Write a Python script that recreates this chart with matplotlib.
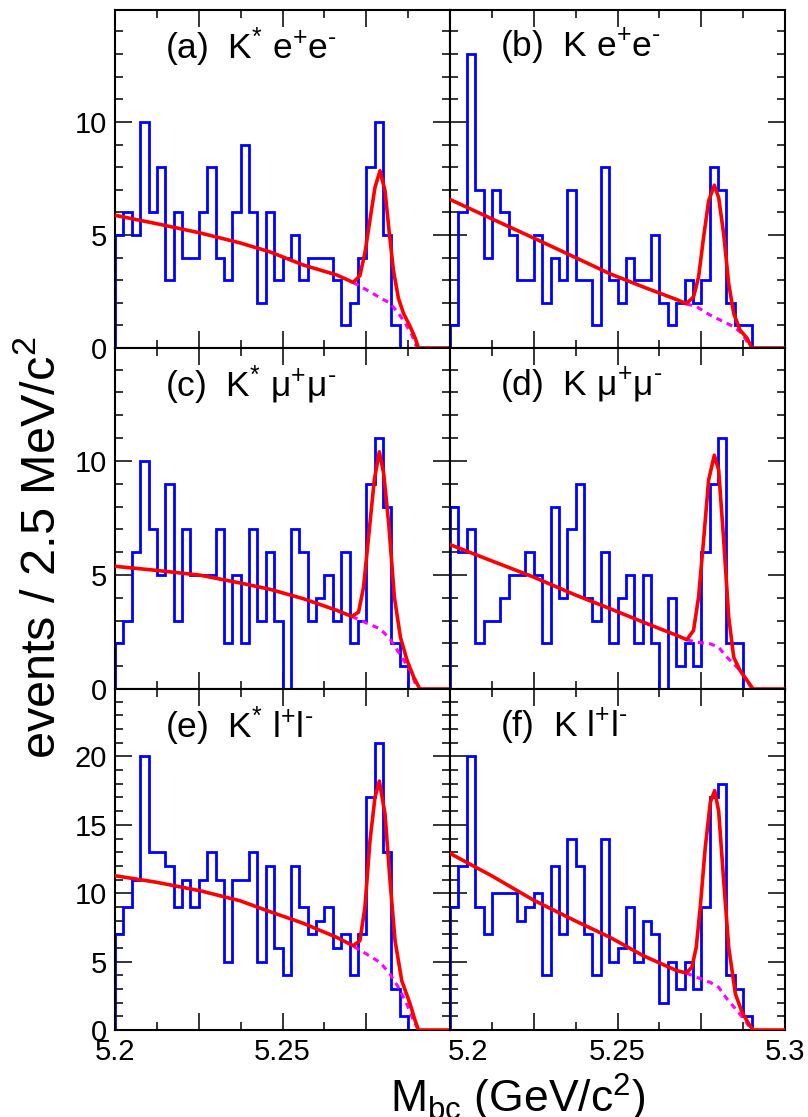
import numpy as np
import matplotlib
matplotlib.use("Agg")
import matplotlib.pyplot as plt
import matplotlib.transforms as mtransforms
from matplotlib.ticker import MultipleLocator, FixedLocator

plt.rcParams['font.family'] = ['Liberation Sans', 'DejaVu Sans']
plt.rcParams['mathtext.fontset'] = 'custom'
plt.rcParams['mathtext.rm'] = 'Liberation Sans'
plt.rcParams['mathtext.it'] = 'Liberation Sans'

# binning: 40 bins of 2.5 MeV from 5.20 to 5.30 GeV
mbc_lo = 5.2
bin_w = 0.0025
n_bins = 40

# event counts per bin
cnt_a = [5, 6, 5, 10, 6, 8, 3, 6, 4, 4, 6, 8, 4, 3, 6, 9, 6, 2, 6, 3,
         4, 5, 3, 4, 4, 4, 3, 1, 2, 4, 8, 10, 5, 1, 0, 0, 0, 0, 0, 0]
cnt_b = [1, 6, 13, 7, 4, 7, 6, 5, 3, 3, 5, 2, 4, 3, 7, 3, 3, 1, 8, 3,
         2, 4, 3, 3, 5, 2, 1, 2, 3, 2, 3, 8, 7, 2, 1, 1, 0, 0, 0, 0]
cnt_c = [2, 3, 6, 10, 7, 5, 9, 3, 7, 5, 5, 5, 7, 2, 5, 2, 7, 3, 6, 3,
         0, 7, 6, 3, 4, 5, 3, 6, 2, 3, 9, 11, 8, 2, 1, 0, 0, 0, 0, 0]
cnt_d = [8, 6, 7, 2, 3, 3, 4, 5, 5, 6, 5, 2, 8, 4, 7, 9, 4, 3, 6, 2,
         4, 5, 2, 5, 2, 0, 4, 1, 2, 1, 6, 9, 11, 2, 2, 0, 0, 0, 0, 0]
cnt_e = [7, 9, 11, 20, 13, 13, 12, 9, 11, 9, 11, 13, 11, 5, 11, 11, 13, 5, 12, 6,
         4, 12, 9, 7, 8, 9, 6, 7, 4, 7, 17, 21, 13, 3, 1, 0, 0, 0, 0, 0]
cnt_f = [9, 12, 20, 9, 7, 10, 10, 10, 8, 9, 10, 4, 12, 7, 14, 12, 7, 4, 14, 5,
         6, 9, 5, 8, 7, 2, 5, 3, 5, 3, 9, 17, 18, 4, 3, 1, 0, 0, 0, 0]

# fit curves (total, solid red)
fit_a_x = [5.200, 5.2124, 5.2254, 5.2373, 5.2463, 5.2562, 5.2662, 5.2711, 5.2731, 5.2746, 5.2761,
           5.2776, 5.2791, 5.2806, 5.2818, 5.2831, 5.2846, 5.2861, 5.2881, 5.2896, 5.2906, 5.300]
fit_a_y = [5.87, 5.50, 5.09, 4.65, 4.25, 3.67, 3.23, 2.90, 3.20, 4.20, 5.65,
           7.10, 7.84, 6.96, 5.20, 3.45, 2.20, 1.54, 0.95, 0.44, 0.0, 0.0]
fit_b_x = [5.200, 5.2124, 5.2249, 5.2373, 5.2478, 5.2577, 5.2677, 5.2705, 5.2727, 5.2742, 5.2757,
           5.2772, 5.2789, 5.2802, 5.2817, 5.2832, 5.2847, 5.2866, 5.2887, 5.2901, 5.300]
fit_b_y = [6.57, 5.72, 4.87, 4.01, 3.28, 2.70, 2.14, 1.96, 2.26, 3.14, 4.90,
           6.50, 7.20, 6.65, 5.04, 2.84, 1.52, 0.79, 0.43, 0.0, 0.0]
fit_c_x = [5.200, 5.2124, 5.2254, 5.2373, 5.2463, 5.2562, 5.2662, 5.2707, 5.2727, 5.2742, 5.2757,
           5.2774, 5.2789, 5.2802, 5.2817, 5.2834, 5.2852, 5.2872, 5.2892, 5.2910, 5.300]
fit_c_y = [5.38, 5.20, 4.99, 4.65, 4.37, 3.96, 3.45, 3.18, 3.37, 4.47, 6.67,
           9.16, 10.40, 9.46, 7.26, 4.03, 2.27, 1.25, 0.51, 0.0, 0.0]
fit_d_x = [5.200, 5.2124, 5.2249, 5.2373, 5.2478, 5.2577, 5.2677, 5.2707, 5.2727, 5.2742, 5.2757,
           5.2772, 5.2789, 5.2802, 5.2817, 5.2832, 5.2847, 5.2866, 5.2887, 5.2905, 5.300]
fit_d_y = [6.33, 5.62, 4.91, 4.13, 3.52, 2.93, 2.35, 2.16, 2.57, 4.03, 6.52,
           9.16, 10.25, 9.60, 6.52, 3.15, 1.39, 0.81, 0.37, 0.0, 0.0]
fit_e_x = [5.200, 5.2124, 5.2254, 5.2373, 5.2463, 5.2562, 5.2662, 5.2711, 5.2731, 5.2746, 5.2761,
           5.2776, 5.2789, 5.2806, 5.2821, 5.2836, 5.2856, 5.2881, 5.2896, 5.2906, 5.300]
fit_e_y = [11.28, 10.80, 10.18, 9.45, 8.65, 7.80, 6.77, 6.16, 6.53, 8.96, 13.80,
           17.00, 18.20, 15.80, 10.90, 6.53, 3.60, 1.90, 0.68, 0.0, 0.0]
fit_f_x = [5.200, 5.2124, 5.2249, 5.2373, 5.2478, 5.2577, 5.2677, 5.2705, 5.2722, 5.2735, 5.2747,
           5.2762, 5.2777, 5.2790, 5.2802, 5.2817, 5.2832, 5.2852, 5.2872, 5.2892, 5.2905, 5.300]
fit_f_y = [12.91, 11.28, 9.50, 7.99, 6.77, 5.43, 4.34, 4.17, 4.58, 6.04, 8.96,
           13.35, 16.64, 17.50, 16.00, 10.90, 6.04, 2.63, 1.29, 0.44, 0.0, 0.0]

# background component under the peak (dashed magenta)
bkg_a_x = [5.2711, 5.2751, 5.2786, 5.2821, 5.2846, 5.2866, 5.2886, 5.2901]
bkg_a_y = [2.90, 2.57, 2.27, 1.98, 1.54, 1.10, 0.59, 0.0]
bkg_b_x = [5.2705, 5.2737, 5.2777, 5.2817, 5.2847, 5.2871, 5.2896, 5.2901]
bkg_b_y = [1.96, 1.82, 1.45, 1.16, 0.94, 0.65, 0.06, 0.0]
bkg_c_x = [5.2707, 5.2751, 5.2791, 5.2821, 5.2856, 5.2881, 5.2901]
bkg_c_y = [3.18, 2.89, 2.64, 2.20, 1.39, 0.81, 0.07]
bkg_d_x = [5.2707, 5.2737, 5.2777, 5.2802, 5.2827, 5.2857, 5.2887, 5.2901]
bkg_d_y = [2.16, 2.05, 1.98, 1.83, 1.39, 0.95, 0.37, 0.0]
bkg_e_x = [5.2713, 5.2751, 5.2791, 5.2821, 5.2846, 5.2871, 5.2891, 5.2906]
bkg_e_y = [6.10, 5.55, 4.95, 4.09, 3.12, 1.90, 0.68, 0.0]
bkg_f_x = [5.2705, 5.2737, 5.2777, 5.2802, 5.2827, 5.2857, 5.2881, 5.2901]
bkg_f_y = [4.17, 3.85, 3.48, 3.12, 2.27, 1.41, 0.68, 0.0]

titles = [r"(a)  K$^{*}$ e$^{+}$e$^{\text{-}}$", r"(b)  K e$^{+}$e$^{\text{-}}$",
          r"(c)  K$^{*}$ μ$^{+}$μ$^{\text{-}}$", r"(d)  K μ$^{+}$μ$^{\text{-}}$",
          r"(e)  K$^{*}$ l$^{+}$l$^{\text{-}}$", r"(f)  K l$^{+}$l$^{\text{-}}$"]

W, H = 808, 1117
fig = plt.figure(figsize=(W / 100, H / 100), dpi=100)

col_x = [115, 450]
col_w = 335
row_y = [(10, 348), (348, 689), (689, 1030)]
ytops = [14.95, 14.95, 24.93]

panels = [
    (cnt_a, fit_a_x, fit_a_y, bkg_a_x, bkg_a_y),
    (cnt_b, fit_b_x, fit_b_y, bkg_b_x, bkg_b_y),
    (cnt_c, fit_c_x, fit_c_y, bkg_c_x, bkg_c_y),
    (cnt_d, fit_d_x, fit_d_y, bkg_d_x, bkg_d_y),
    (cnt_e, fit_e_x, fit_e_y, bkg_e_x, bkg_e_y),
    (cnt_f, fit_f_x, fit_f_y, bkg_f_x, bkg_f_y),
]

edges = mbc_lo + bin_w * np.arange(n_bins + 1)

for i, (cnt, fx, fy, bx, by) in enumerate(panels):
    r, c = divmod(i, 2)
    top, bot = row_y[r]
    ax = fig.add_axes([col_x[c] / W, 1 - bot / H, col_w / W, (bot - top) / H])

    ax.stairs(cnt, edges, color='#0000ff', lw=2.0, zorder=2)
    ax.plot(bx, by, color='#ff00ff', lw=2.2, ls=(0, (2.0, 1.7)), zorder=3)
    ax.plot(fx, fy, color='#ff0000', lw=2.6, zorder=4)

    ax.set_xlim(5.2, 5.3)
    ax.set_ylim(0, ytops[r])

    ax.xaxis.set_major_locator(FixedLocator([5.2, 5.225, 5.25, 5.275, 5.3]))
    ax.xaxis.set_minor_locator(MultipleLocator(0.0125))
    ax.yaxis.set_major_locator(MultipleLocator(5))
    ax.yaxis.set_minor_locator(MultipleLocator(1))

    ax.tick_params(which='both', direction='in', top=True, right=True,
                   width=1.1, labelsize=21, pad=6)
    ax.tick_params(which='major', length=12)
    ax.tick_params(which='minor', length=6)

    if r == 2:
        if c == 0:
            ax.set_xticklabels(["5.2", "", "5.25", "", ""])
        else:
            ax.set_xticklabels(["5.2", "", "5.25", "", "5.3"])
            # ROOT nudges the first label of the right pad to the right
            lab0 = ax.get_xticklabels()[0]
            lab0.set_transform(lab0.get_transform() +
                               mtransforms.ScaledTranslation(0.18, 0, fig.dpi_scale_trans))
    else:
        ax.set_xticklabels([])
    if c == 1:
        ax.set_yticklabels([])

    for s in ax.spines.values():
        s.set_linewidth(1.5)

    ax.text(0.149, 0.89, titles[i], transform=ax.transAxes, fontsize=25.5,
            ha='left', va='center')

fig.text(42 / W, 1 - 548 / H, r"events / 2.5 MeV/c$^{2}$", rotation=90,
         fontsize=35, ha='center', va='center')
fig.text(645 / W, 1 - 1098 / H, r"M$_{\rm bc}$ (GeV/c$^{2}$)", fontsize=32,
         ha='right', va='center')

fig.savefig("out.png", dpi=100)
